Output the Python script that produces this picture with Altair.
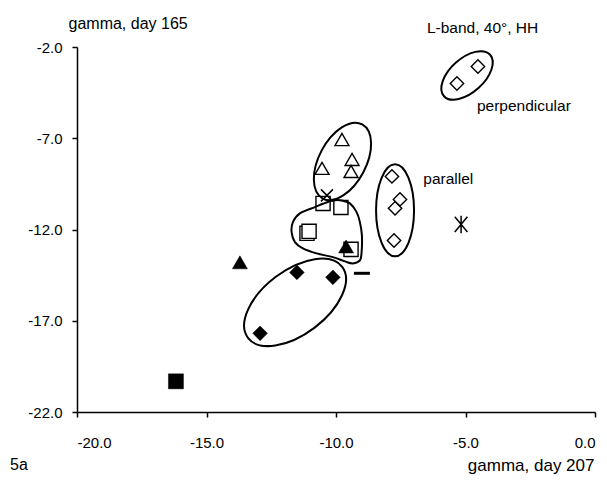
import altair as alt
import pandas as pd

# ---- data (gamma day 207 on x, gamma day 165 on y) ----
tri_open_x = [-9.77, -10.54, -9.38, -9.42]
tri_open_y = [-7.07, -8.65, -8.16, -8.82]
sq_open_x = [-10.50, -9.81, -11.12, -11.04, -9.42]
sq_open_y = [-10.57, -10.79, -12.21, -12.10, -13.09]
dia_open_x = [-7.84, -7.72, -7.53, -7.76, -4.52, -5.33]
dia_open_y = [-9.09, -10.84, -10.35, -12.60, -3.07, -4.00]
dia_fill_x = [-11.51, -10.12, -12.93]
dia_fill_y = [-14.35, -14.62, -17.69]
tri_fill_x = [-13.71, -9.61]
tri_fill_y = [-13.80, -12.93]
sq_fill_x = [-16.18]
sq_fill_y = [-20.32]
dash_x = [-9.0]
dash_y = [-14.40]
star_x = [-5.17]
star_y = [-11.72]
cross_x = [-10.35]
cross_y = [-10.13]

x_ticks = [-20, -15, -10, -5, 0]
y_ticks = [-22, -17, -12, -7, -2]

# group outlines (centres in data units)
ell_x = [-4.94, -9.75, -7.72, -11.58]
ell_y = [-3.56, -8.27, -10.95, -15.99]
blob_x = [-10.39]
blob_y = [-12.05]

labels = ["L-band, 40°, HH", "perpendicular", "parallel"]
label_x = [-6.49, -4.56, -6.63]
label_y = [-1.21, -5.53, -9.48]


# ---- shape definitions (symbol paths, unit = 1 px when size = 4) ----
def ellipse_path(rx, ry):
    k = 0.5523
    return (f"M{rx},0 C{rx},{k*ry:.2f} {k*rx:.2f},{ry} 0,{ry} "
            f"C{-k*rx:.2f},{ry} {-rx},{k*ry:.2f} {-rx},0 "
            f"C{-rx},{-k*ry:.2f} {-k*rx:.2f},{-ry} 0,{-ry} "
            f"C{k*rx:.2f},{-ry} {rx},{-k*ry:.2f} {rx},0 Z")


def smooth_closed(pts):
    n = len(pts)
    d = f"M{pts[0][0]},{pts[0][1]} "
    for i in range(n):
        p0, p1, p2, p3 = pts[i - 1], pts[i], pts[(i + 1) % n], pts[(i + 2) % n]
        c1 = (p1[0] + (p2[0] - p0[0]) / 6, p1[1] + (p2[1] - p0[1]) / 6)
        c2 = (p2[0] - (p3[0] - p1[0]) / 6, p2[1] - (p3[1] - p1[1]) / 6)
        d += f"C{c1[0]:.2f},{c1[1]:.2f} {c2[0]:.2f},{c2[1]:.2f} {p2[0]},{p2[1]} "
    return d + "Z"


blob_pts = [(-11, -23.3), (-26, -17), (-33, -8.3), (-34.3, 1.7), (-31, 11.7),
            (-23, 18), (-9.3, 23), (7, 26.7), (19, 31), (27, 33), (34, 30),
            (35.7, 21.7), (36, 5), (34, -8.3), (30.7, -18.3), (24, -27),
            (15.7, -30), (7, -30), (-3, -26.7)]

ell_shape = [ellipse_path(31, 17), ellipse_path(42, 23.5),
             ellipse_path(46, 19), ellipse_path(59, 32)]
ell_angle = [138, 118, 90, 143]

STAR = "M-0.9,-1.1L0.9,1.1M-0.9,1.1L0.9,-1.1M0,-1.25L0,1.25"
CROSS = "M-1,-1L1,1M-1,1L1,-1"

# ---- tables ----
open_df = pd.DataFrame({
    "x": tri_open_x + sq_open_x + dia_open_x,
    "y": tri_open_y + sq_open_y + dia_open_y,
    "shape": ["triangle-up"] * len(tri_open_x) + ["square"] * len(sq_open_x)
             + ["diamond"] * len(dia_open_x),
    "size": [196] * len(tri_open_x) + [200] * len(sq_open_x) + [180] * len(dia_open_x),
})
filled_df = pd.DataFrame({
    "x": dia_fill_x + tri_fill_x + sq_fill_x,
    "y": dia_fill_y + tri_fill_y + sq_fill_y,
    "shape": ["diamond"] * len(dia_fill_x) + ["triangle-up"] * len(tri_fill_x)
             + ["square"] * len(sq_fill_x),
    "size": [215] * len(dia_fill_x) + [225] * len(tri_fill_x) + [225] * len(sq_fill_x),
})
line_sym_df = pd.DataFrame({
    "x": star_x + cross_x,
    "y": star_y + cross_y,
    "shape": [STAR, CROSS],
    "size": [196, 144],
})
dash_df = pd.DataFrame({"x": dash_x, "y": dash_y})
ell_df = pd.DataFrame({
    "x": ell_x + blob_x,
    "y": ell_y + blob_y,
    "shape": ell_shape + [smooth_closed(blob_pts)],
    "angle": ell_angle + [0],
})
lab_df = pd.DataFrame({"label": labels, "x": label_x, "y": label_y})

FONT = "Liberation Sans"

xscale = alt.Scale(domain=[-20, 0], nice=False, zero=False)
yscale = alt.Scale(domain=[-22, -2], nice=False, zero=False)
lab_expr = "(datum.value < 0 ? '-' : '') + format(abs(datum.value), '.1f')"

xenc = alt.X("x:Q", scale=xscale, axis=alt.Axis(
    values=x_ticks, labelExpr=lab_expr, grid=False,
    labelFontSize=15, labelPadding=18, labelColor="black", labelFont=FONT,
    tickSize=5, tickColor="black", tickWidth=1.5,
    domainColor="black", domainWidth=1.5,
    title="gamma, day 207", titleFont=FONT, titleFontSize=17,
    titleFontWeight="normal", titleColor="black",
    titleAlign="right", titleBaseline="alphabetic", titleX=517, titleY=58,
))
yenc = alt.Y("y:Q", scale=yscale, axis=alt.Axis(
    values=y_ticks, labelExpr=lab_expr, grid=False,
    labelFontSize=15, labelPadding=10, labelColor="black", labelFont=FONT,
    tickSize=5, tickColor="black", tickWidth=1.5,
    domainColor="black", domainWidth=1.5,
    title="gamma, day 165", titleFont=FONT, titleFontSize=16,
    titleFontWeight="normal", titleColor="black", titleAngle=0,
    titleAlign="left", titleBaseline="alphabetic", titleX=-9, titleY=-19,
))

open_layer = alt.Chart(open_df).mark_point(
    filled=True, fill="white", stroke="black", strokeWidth=1.4, opacity=1
).encode(x=xenc, y=yenc,
         shape=alt.Shape("shape:N", scale=None),
         size=alt.Size("size:Q", scale=None))

filled_layer = alt.Chart(filled_df).mark_point(
    filled=True, fill="black", stroke="black", strokeWidth=0.5, opacity=1
).encode(x="x:Q", y="y:Q",
         shape=alt.Shape("shape:N", scale=None),
         size=alt.Size("size:Q", scale=None))

line_sym_layer = alt.Chart(line_sym_df).mark_point(
    filled=False, stroke="black", strokeWidth=1.5, opacity=1
).encode(x="x:Q", y="y:Q",
         shape=alt.Shape("shape:N", scale=None),
         size=alt.Size("size:Q", scale=None))

dash_layer = alt.Chart(dash_df).mark_point(
    shape="stroke", size=256, stroke="black", strokeWidth=3, opacity=1
).encode(x="x:Q", y="y:Q")

ell_layer = alt.Chart(ell_df).mark_point(
    filled=False, stroke="black", strokeWidth=2, opacity=1, size=4
).encode(x="x:Q", y="y:Q",
         shape=alt.Shape("shape:N", scale=None),
         angle=alt.Angle("angle:Q", scale=None))

text_layer = alt.Chart(lab_df).mark_text(
    align="left", baseline="alphabetic", font=FONT, fontSize=15.5, color="black"
).encode(x="x:Q", y="y:Q", text="label:N")

fig_label = alt.Chart(pd.DataFrame({"t": ["5a"]})).mark_text(
    align="left", baseline="alphabetic", font=FONT, fontSize=16, color="black"
).encode(x=alt.value(-67), y=alt.value(423), text="t:N")

chart = alt.layer(
    open_layer, filled_layer, line_sym_layer, dash_layer, ell_layer,
    text_layer, fig_label
).properties(
    width=518, height=365, autosize="none",
    padding={"left": 77, "top": 47, "right": 12, "bottom": 71},
    background="white",
).configure_view(stroke=None)

chart.save("out.html", embed_options={"renderer": "svg", "actions": False})
